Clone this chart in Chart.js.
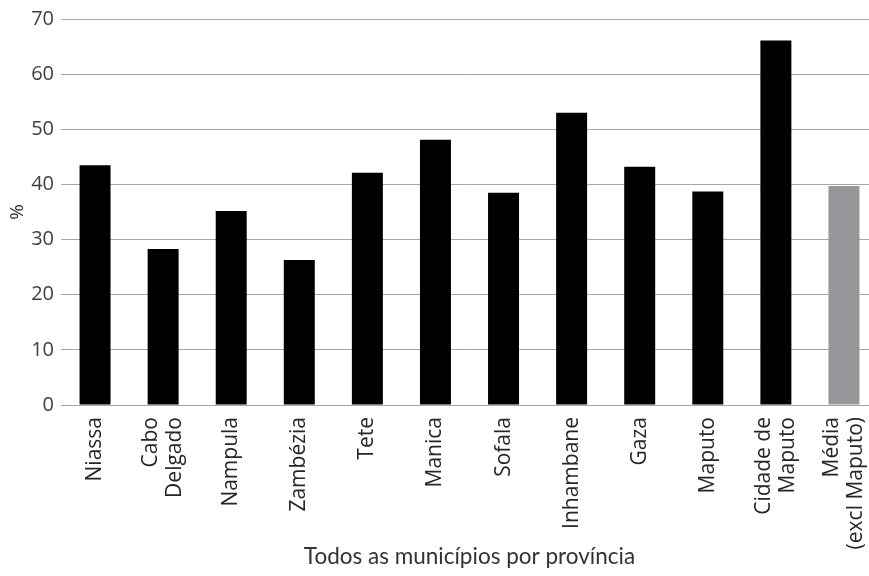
<!DOCTYPE html>
<html>
<head>
<meta charset="utf-8">
<script src="https://cdn.jsdelivr.net/npm/chart.js@4"></script>
<style>
  html, body { margin: 0; padding: 0; background: #fff; overflow: hidden; }
  #wrap { width: 880px; height: 576px; }
</style>
</head>
<body>
<div id="wrap"><canvas id="chartBar"></canvas></div>
<script>
let labels = [
  'Niassa', ['Cabo', 'Delgado'], 'Nampula', 'Zambézia', 'Tete', 'Manica',
  'Sofala', 'Inhambane', 'Gaza', 'Maputo', ['Cidade de', 'Maputo'], ['Média', '(excl Maputo)']
];
let values = [43.5, 28.3, 35.2, 26.3, 42.1, 48.1, 38.5, 53.0, 43.2, 38.7, 66.1, 39.7];
let colorHex = ['#000', '#000', '#000', '#000', '#000', '#000', '#000', '#000', '#000', '#000', '#000', '#97979b'];

// centre multi-line rotated labels on their tick (Chart.js puts the first line on it)
let centreLabels = {
  id: 'centreLabels',
  beforeDraw(chart) {
    let scale = chart.scales.x;
    let items = scale.getLabelItems();
    if (items._centred) return;
    items.forEach(it => {
      let n = Array.isArray(it.label) ? it.label.length : 1;
      if (n > 1) it.options.translation[0] -= (n - 1) * it.font.lineHeight / 2;
    });
    items._centred = true;
  }
};

let ctx = document.getElementById('chartBar').getContext('2d');
let chartBar = new Chart(ctx, {
  type: 'bar',
  data: {
    labels: labels,
    datasets: [{
      data: values,
      backgroundColor: colorHex,
      barPercentage: 0.455,
      categoryPercentage: 1
    }]
  },
  options: {
    responsive: true,
    maintainAspectRatio: false,
    animation: false,
    layout: { padding: { top: 8, right: 2, bottom: 0, left: 0 } },
    plugins: { legend: { display: false }, tooltip: { enabled: false } },
    scales: {
      x: {
        grid: { display: false, drawTicks: false },
        border: { color: '#a6a6a6', width: 1 },
        ticks: {
          color: '#262626',
          font: { family: "'Open Sans'", size: 21, lineHeight: 1.15 },
          minRotation: 90, maxRotation: 90,
          padding: 12,
          autoSkip: false
        },
        title: {
          display: true,
          text: 'Todos as municípios por província',
          color: '#333',
          font: { family: 'Lato', size: 22.5 },
          padding: { top: 0, bottom: 6 }
        },
        afterFit: s => { s.height = 171; s.paddingLeft = 0; s.paddingRight = 0; }
      },
      y: {
        min: 0, max: 70,
        grid: { color: '#a6a6a6', lineWidth: 1, drawTicks: false },
        border: { display: false },
        ticks: {
          stepSize: 10,
          color: '#404040',
          font: { family: "'Open Sans'", size: 20 },
          padding: 7
        },
        title: {
          display: true,
          text: '%',
          color: '#262626',
          font: { family: "'Open Sans'", size: 19 },
          padding: { top: 6, bottom: 0 }
        },
        afterFit: s => { s.width = 61; }
      }
    }
  },
  plugins: [centreLabels]
});
</script>
</body>
</html>
